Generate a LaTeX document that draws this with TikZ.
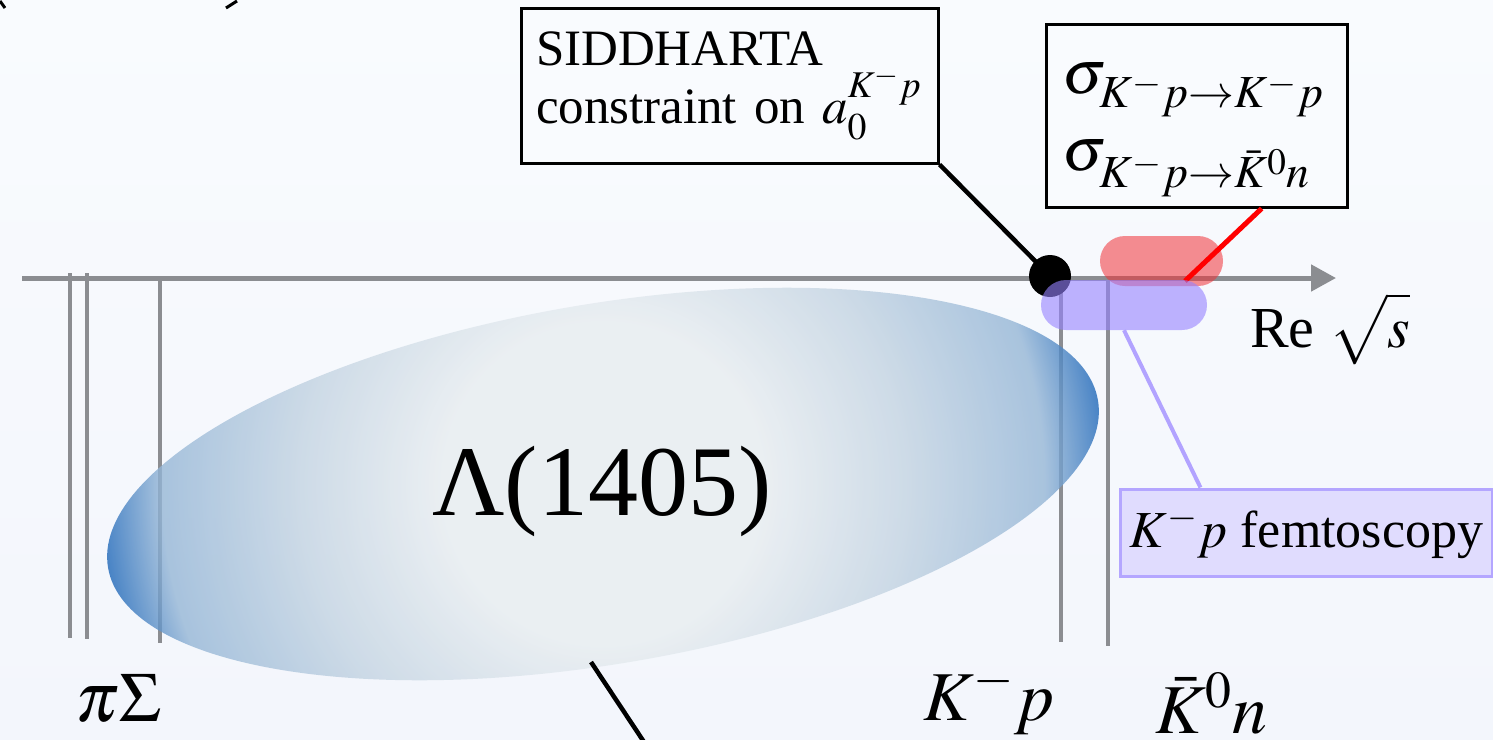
\documentclass[tikz,border=0pt]{standalone}
\usepackage{mathptmx}
\usepackage{fontspec}
\setmainfont{Liberation Serif}
\usetikzlibrary{arrows.meta,calc,positioning}
\definecolor{KnBgTop}{HTML}{F9FBFE}
\definecolor{KnBgBottom}{HTML}{F3F6FC}
\definecolor{KnGray}{HTML}{8B8D91}
\definecolor{KnRed}{HTML}{FF0000}
\definecolor{KnPillRed}{HTML}{F03238}
\definecolor{KnPillViolet}{HTML}{9682FF}
\definecolor{KnVioletLine}{HTML}{B2A3FF}
\definecolor{KnFemtoFill}{HTML}{E0DCFE}
\definecolor{KnFemtoLine}{HTML}{B4A6FF}
\definecolor{KnLamCore}{HTML}{E8EDF0}
\definecolor{KnLamMid}{HTML}{C4D4E2}
\definecolor{KnLamOuter}{HTML}{95B6D6}
\definecolor{KnLamDeep}{HTML}{1E67B8}
\pgfdeclareradialshading{knlambdaglow}{\pgfpoint{0bp}{0bp}}{%
  color(0bp)=(KnLamCore); color(8bp)=(KnLamCore); color(15bp)=(KnLamMid);
  color(22bp)=(KnLamOuter); color(25bp)=(KnLamDeep); color(50bp)=(KnLamDeep)}
\tikzset{
  kn callout/.style={
    draw=black,
    fill=KnBgTop,
    line width=3pt,
    align=left,
    inner xsep=15pt,
    inner ysep=0pt,
    font=\fontsize{51}{58}\selectfont
  },
  kn femto box/.style={
    draw=KnFemtoLine,
    fill=KnFemtoFill,
    line width=3pt,
    anchor=west,
    minimum width=372pt,
    minimum height=87pt,
    inner sep=0pt,
    font=\fontsize{52}{58}\selectfont
  },
  kn pill/.style={
    rounded corners=25pt,
    minimum height=50pt,
    inner sep=0pt
  },
  kn axis/.style={-{Triangle[length=25pt,width=26pt]},draw=KnGray,line width=5pt},
  kn threshold/.style={draw=KnGray,line width=4.5pt},
  kn link/.style={draw=black,line width=4.5pt},
  kn red link/.style={draw=KnRed,line width=5pt},
  kn violet link/.style={draw=KnVioletLine,line width=4pt},
  kn label/.style={
    inner sep=0pt,
    anchor=base west,
    font=\fontsize{70}{70}\selectfont
  }
}

\begin{document}
\begin{tikzpicture}[x=1pt,y=-1pt]
  \useasboundingbox (0,0) rectangle (1493,739);
  \shade[top color=KnBgTop,bottom color=KnBgBottom] (0,0) rectangle (1493,739);

  % cut-off strokes at the upper edge
  \draw[line width=3pt] (0,1) -- (5,8);
  \draw[line width=3pt] (226,8) -- (237,1);

  \foreach \x/\ytop/\ybot in {70/273/638,87/273/639,160/278/643,1061/278/642,1108/278/646}
    \draw[kn threshold] (\x,\ytop) -- (\x,\ybot);

  \begin{scope}[opacity=0.8]
    \clip[rotate around={9.6:(603,484)}] (603,484) ellipse [x radius=502,y radius=180];
    \shade[shading=knlambdaglow] (603,484) circle [radius=502];
  \end{scope}
  \node[kn label,font=\fontsize{100}{100}\selectfont] (lambda) at (432,515) {Λ(1405)};

  \coordinate (axis start) at (22,278);
  \coordinate (axis end) at (1336,278);
  \draw[kn axis] (axis start) -- (axis end);

  \node[kn callout,text width=387pt,minimum height=155pt] (siddharta) at (729.5,85.5)
    {SIDDHARTA\\constraint on $a_0^{K^-p}$};
  \node[kn callout,text width=269pt,inner xsep=16pt,minimum height=183pt,
    font=\fontsize{62}{77}\selectfont] (xsec) at (1196.5,115.5)
    {\rule{0pt}{60pt}$\sigma_{K^-p\to K^-p}$\\$\sigma_{K^-p\to\bar K^0 n}$};

  \node[circle,fill=black,minimum size=42pt,inner sep=0pt] (siddharta dot) at (1050,276) {};
  \node[kn pill,fill=KnPillRed,fill opacity=0.55,minimum width=123pt] (xsec pill) at (1161.5,261) {};
  \coordinate (xsec mark) at (1185,281);
  \draw[kn link] (siddharta.south east) -- (siddharta dot.center);
  \draw[kn red link] (xsec.-55) -- (xsec mark);

  \node[kn femto box] (femto) at (1119,532.5) {$K^-p$ femtoscopy};
  \node[kn pill,fill=KnPillViolet,fill opacity=0.6,minimum width=166pt] (femto pill) at (1124,305) {};
  \draw[kn violet link] (femto pill.south) -- (femto.157);

  \coordinate (lambda foot) at (591,662);
  \coordinate (lambda tail) at (646,745);
  \draw[kn link] (lambda foot) -- (lambda tail);

  \node[kn label,font=\fontsize{58}{58}\selectfont] (re sqrt s) at (1250,347) {Re $\sqrt{\mathstrut s}$};
  \node[kn label] (pi sigma) at (75,721) {$\pi\Sigma$};
  \node[kn label] (k minus p) at (923,720) {$K^-p$};
  \node[kn label] (kbar zero n) at (1155,733) {$\bar K^0 n$};
\end{tikzpicture}
\end{document}
